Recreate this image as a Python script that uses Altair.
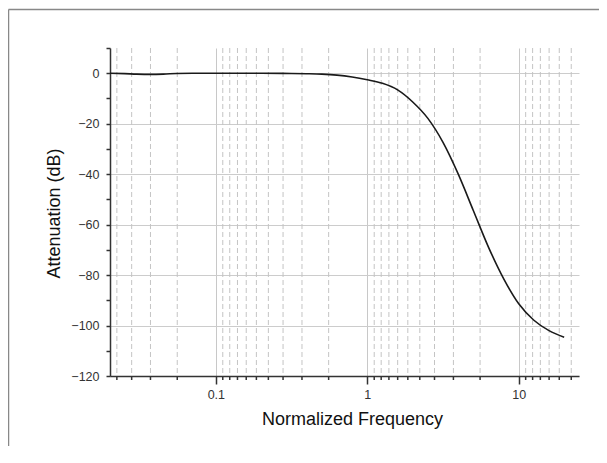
import altair as alt
import pandas as pd

# Curve values
freq = [0.02, 0.025, 0.03, 0.037, 0.045, 0.055, 0.07, 0.1, 0.2, 0.316, 0.398, 0.501,
        0.631, 0.794, 1.0, 1.259, 1.585, 1.995, 2.512, 3.162, 3.981, 5.012, 6.310,
        7.943, 10.0, 12.59, 15.85, 19.95]
atten = [0, -0.15, -0.35, -0.45, -0.35, -0.12, -0.02, 0, -0.02, -0.08, -0.18, -0.35,
         -0.75, -1.5, -2.6, -4.0, -6.6, -11.4, -17.9, -27.4, -39.9, -54.4, -68.9,
         -81.4, -91.4, -97.9, -102.0, -104.6]

# Axis tick values
major_ticks = [0.1, 1, 10]
minor_ticks = [0.0222, 0.0278, 0.0370, 0.0556,
               0.1111, 0.1235, 0.1389, 0.1587, 0.1852, 0.2222, 0.2778, 0.3704, 0.5556,
               1.111, 1.235, 1.389, 1.587, 1.852, 2.222, 2.778, 3.704, 5.556,
               11.11, 12.35, 13.89, 15.87, 18.52, 22.22]
y_ticks = [-120, -110, -100, -90, -80, -70, -60, -50, -40, -30, -20, -10, 0, 10]

W, H = 469, 328
FONT = "Liberation Sans"

curve = pd.DataFrame({"f": freq, "a": atten})
minor = pd.DataFrame({"f": minor_ticks})

xscale = alt.Scale(type="log", domain=[0.02, 25], nice=False)
xaxis = alt.Axis(
    values=major_ticks, format="~g", title="Normalized Frequency",
    grid=True, gridColor="#c8c8c8", gridWidth=1,
    domainColor="#333333", domainWidth=1.5,
    tickColor="#333333", tickSize=8, tickWidth=1.5,
    labelFont=FONT, labelFontSize=12.5, labelColor="#333333", labelPadding=4,
    titleFont=FONT, titleFontSize=18, titleFontWeight="normal", titleColor="#111111",
    titleX=242, titleY=48, titleBaseline="alphabetic", titleAnchor="middle", titleAlign="center",
)
yaxis = alt.Axis(
    values=y_ticks, title="Attenuation (dB)",
    labelExpr="datum.value % 20 == 0 ? datum.label : ''",
    grid=True, gridColor="#cccccc",
    gridOpacity={"condition": {"test": "datum.value % 20 == 0 && datum.value <= 0", "value": 1}, "value": 0},
    domainColor="#333333", domainWidth=1.5,
    tickColor="#333333", tickSize=4, tickWidth=1.5,
    labelFont=FONT, labelFontSize=12.5, labelColor="#333333", labelPadding=7,
    titleFont=FONT, titleFontSize=18, titleFontWeight="normal", titleColor="#111111",
    titleX=-51, titleY=165, titleAngle=270, titleBaseline="alphabetic", titleAlign="center",
)

minor_grid = alt.Chart(minor).mark_rule(color="#c4c4c4", strokeWidth=1, strokeDash=[5, 3]).encode(
    x=alt.X("f:Q", scale=xscale, axis=xaxis),
    y=alt.value(0), y2=alt.value(H),
)
minor_tick = alt.Chart(minor).mark_rule(color="#333333", strokeWidth=1.5).encode(
    x=alt.X("f:Q", scale=xscale, axis=xaxis),
    y=alt.value(H), y2=alt.value(H + 4),
)
line = alt.Chart(curve).mark_line(color="#1a1a1a", strokeWidth=1.6, interpolate="monotone").encode(
    x=alt.X("f:Q", scale=xscale, axis=xaxis),
    y=alt.Y("a:Q", scale=alt.Scale(domain=[-120, 10], nice=False, zero=False), axis=yaxis),
)
frame_src = pd.DataFrame({"k": [0]})
frame_top = alt.Chart(frame_src).mark_rule(color="#888888", strokeWidth=1.5).encode(
    x=alt.value(-101.5), x2=alt.value(W + 20), y=alt.value(-38.5),
)
frame_left = alt.Chart(frame_src).mark_rule(color="#888888", strokeWidth=1.5).encode(
    x=alt.value(-101.5), y=alt.value(-38.5), y2=alt.value(H + 70),
)

chart = alt.layer(minor_grid, minor_tick, line, frame_top, frame_left).properties(
    width=W, height=H,
    autosize=alt.AutoSizeParams(type="none"),
    padding={"left": 102, "top": 40, "right": 20, "bottom": 70},
).configure_view(strokeWidth=0)

chart.save("out.html", embed_options={"renderer": "svg", "actions": False})
